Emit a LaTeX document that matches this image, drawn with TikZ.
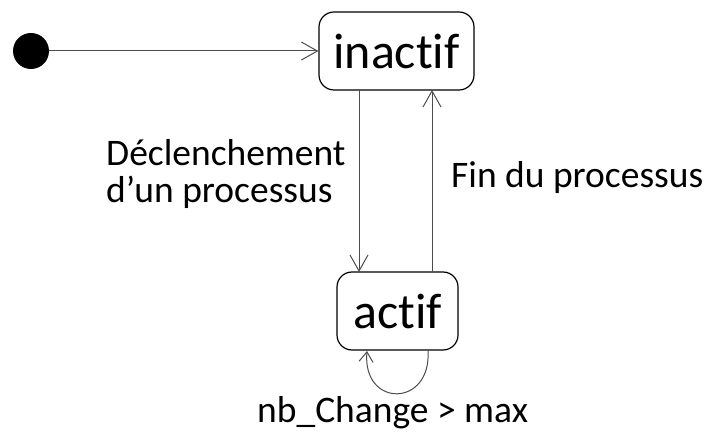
\documentclass[tikz,border=0pt]{standalone}
\usepackage{fontspec}
\setmainfont{Carlito}[Ligatures=NoCommon]
\usetikzlibrary{arrows.meta}
\begin{document}
\begin{tikzpicture}[x=1pt,y=-1pt,
  statebox/.style={draw=black,line width=1.2pt,rounded corners=15pt,inner sep=0pt,
    font=\fontsize{50pt}{52pt}\selectfont},
  lbl/.style={inner sep=0pt,anchor=base west,font=\fontsize{37.5pt}{38pt}\selectfont},
  conn/.style={draw=black!70,line width=1pt,-{Straight Barb[length=16pt,width=18pt,line width=1pt]}},
]
\useasboundingbox (0,0) rectangle (709,435);
\node[circle,fill=black,minimum size=36pt,inner sep=0pt] (init) at (31,51) {};
\node[statebox,minimum width=155pt,minimum height=78pt] (inactif) at (396.5,51) {inactif};
\node[statebox,minimum width=121pt,minimum height=78pt] (actif) at (397.5,311) {actif};
\coordinate (dtop) at (359,90);
\coordinate (dbot) at (359,272);
\coordinate (utop) at (432,90);
\coordinate (ubot) at (432,272);
\coordinate (ls) at (428,350);
\coordinate (le) at (367,351);
\draw[conn] (init.east) -- (inactif.west);
\draw[conn] (dtop) -- (dbot);
\draw[conn] (ubot) -- (utop);
\draw[draw=black!70,line width=1pt,-{Straight Barb[length=10pt,width=14pt,line width=1pt]}]
  (ls) .. controls (432,408) and (362,408) .. (le);
\node[lbl] (dl1) at (106,166) {Déclenchement};
\node[lbl] (dl2) at (106,203) {d’un processus};
\node[lbl] (fl) at (451,188) {Fin du processus};
\node[lbl] (nl) at (257,422) {nb\_Change > max};
\end{tikzpicture}
\end{document}
